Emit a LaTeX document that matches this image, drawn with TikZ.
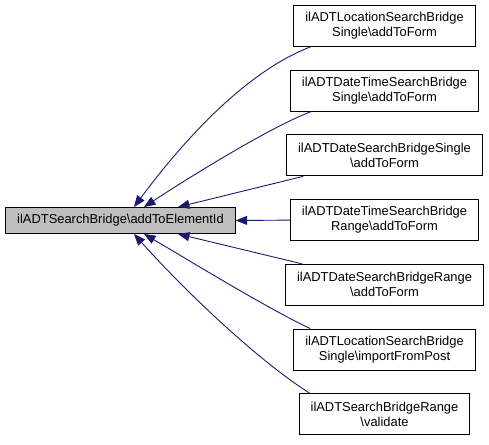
\documentclass[tikz,border=0pt]{standalone}
\usepackage{fontspec}
\setmainfont{Liberation Sans}
\usepackage{tikz}
\usetikzlibrary{arrows.meta,positioning}

\definecolor{edgeblue}{HTML}{191970}
\definecolor{srcgray}{HTML}{BFBFBF}

\tikzset{
    member/.style={draw=black, line width=0.9pt, inner xsep=11.5pt, inner ysep=0pt,
        align=center, font=\fontsize{12.9}{15}\selectfont},
    callee/.style={member, fill=white, minimum height=41},
    caller/.style={member, fill=srcgray, minimum height=26},
    calls/.style={draw=edgeblue, line width=0.9pt, -{Triangle[length=11.5pt,width=9pt]}}
}

\begin{document}
\begin{tikzpicture}[x=1pt, y=-1pt]
    \useasboundingbox (0,0) rectangle (489,444);

    % Function in focus
    \node[caller] (src) at (120.5,220.5) {ilADTSearchBridge\textbackslash addToElementId};

    % Callers on the right
    \foreach \i/\txt in {
        1/{ilADTLocationSearchBridge\\Single\textbackslash addToForm},
        2/{ilADTDateTimeSearchBridge\\Single\textbackslash addToForm},
        3/{ilADTDateSearchBridgeSingle\\\textbackslash addToForm},
        4/{ilADTDateTimeSearchBridge\\Range\textbackslash addToForm},
        5/{ilADTDateSearchBridgeRange\\\textbackslash addToForm},
        6/{ilADTLocationSearchBridge\\Single\textbackslash importFromPost},
        7/{ilADTSearchBridgeRange\\\textbackslash validate}} {
        \node[callee] (c\i) at (384.5,{26+64.7*(\i-1)}) {\txt};
    }

    % Upper edges
    \draw[calls] ([xshift=17pt]c1.south west) .. controls (250,70) and (189,133) .. ([xshift=13.5pt]src.north);
    \draw[calls] ([xshift=21pt]c2.south west) .. controls (270,127) and (185,180) .. ([xshift=23.5pt]src.north);
    \draw[calls] ([xshift=17pt]c3.south west) -- ([xshift=57.5pt]src.north);

    % Straight edge
    \draw[calls] (c4.west) -- (src.east);

    % Lower edges
    \draw[calls] ([xshift=17pt]c5.north west) -- ([xshift=57.5pt]src.south);
    \draw[calls] ([xshift=17pt]c6.north west) .. controls (270,310) and (180,255) .. ([xshift=23.5pt]src.south);
    \draw[calls] ([xshift=11pt]c7.north west) .. controls (250,355) and (175,280) .. ([xshift=13.5pt]src.south);
\end{tikzpicture}
\end{document}
